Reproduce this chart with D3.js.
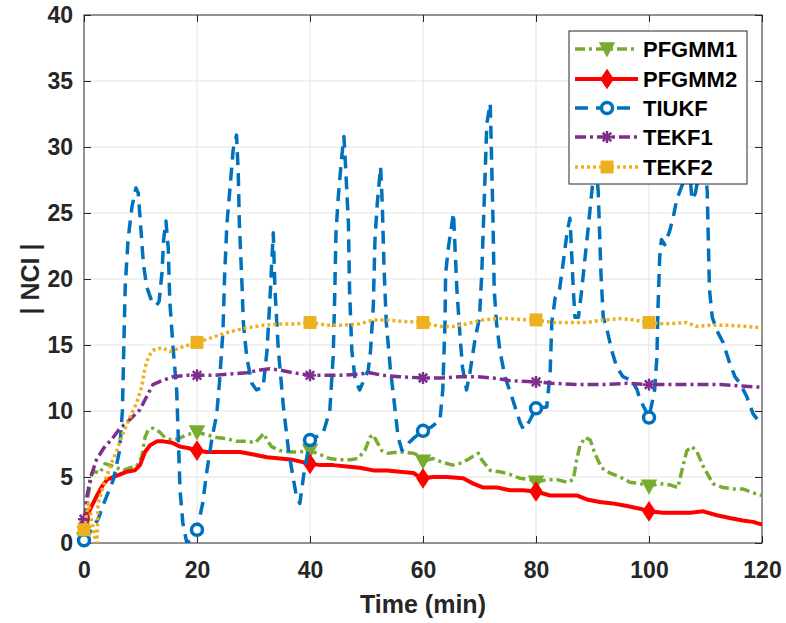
<!DOCTYPE html>
<html>
<head>
<meta charset="utf-8">
<script src="https://cdn.jsdelivr.net/npm/d3@7"></script>
<style>
  body { margin: 0; background: #fff; }
  text { font-family: "Liberation Sans", Arial, sans-serif; font-weight: bold; }
</style>
</head>
<body>
<div id="chart"></div>
<script>
// ---- data ----
var xTicks = [0, 20, 40, 60, 80, 100, 120];
var yTicks = [0, 5, 10, 15, 20, 25, 30, 35, 40];
var markerTimes = [0, 20, 40, 60, 80, 100];
var seriesNames = ["PFGMM1", "PFGMM2", "TIUKF", "TEKF1", "TEKF2"];

var pfgmm1 = [[0,0.3],[0.7,3.5],[1.4,5.3],[2,5.4],[2.8,5.3],[3.7,6.0],[4.6,5.9],[5.8,5.7],[6.9,5.5],[8.1,5.7],[9.3,5.8],[10.2,6.5],[10.8,8.0],[11.4,8.6],[12.2,8.7],[13.4,8.4],[14.3,8.0],[15.5,7.8],[16.7,7.9],[18.2,8.2],[20,8.4],[21.7,8.2],[23.5,8.0],[25.3,7.9],[27,7.7],[28.8,7.7],[30.3,7.6],[31.2,8.0],[31.8,8.3],[32.4,7.8],[33.2,7.3],[34.7,7.0],[36.5,6.9],[38.2,6.9],[40,7.0],[41.8,6.7],[43.5,6.4],[45.3,6.3],[47.1,6.3],[48.5,6.4],[49.7,7.0],[50.6,8.0],[51.2,8.2],[51.8,7.7],[52.7,7.0],[53.8,6.8],[55.9,6.9],[58.3,6.8],[59.4,6.6],[60,6.2],[61.8,6.4],[63.5,6.1],[65.3,5.9],[67.1,6.1],[68.6,6.5],[69.8,6.8],[70.4,6.3],[71.9,5.5],[73.6,5.4],[75.4,5.2],[77.2,4.9],[78.9,4.8],[80,4.6],[81.9,4.8],[83.7,4.8],[85.5,4.6],[86.6,4.8],[87.2,6.3],[87.8,7.4],[88.7,8.0],[89.6,7.8],[90.4,6.8],[91.6,5.7],[93.1,5.3],[94.9,5.0],[96.6,4.6],[98.4,4.5],[100,4.3],[101.9,4.5],[103.7,4.4],[105.1,4.2],[106,5.8],[106.7,7.0],[107.6,7.3],[108.5,6.9],[109.6,5.8],[111.3,4.5],[113.1,4.2],[114.9,4.1],[116.6,4.1],[118.4,3.8],[120,3.6]];

var pfgmm2 = [[0,1.2],[0.3,0.2],[0.7,2.2],[1.6,3.0],[2.3,3.6],[3.2,4.3],[4.1,4.8],[5.2,5.0],[6.4,5.2],[7.6,5.4],[9.0,5.5],[9.9,5.9],[10.8,6.9],[11.7,7.4],[12.9,7.7],[14,7.7],[15.6,7.6],[17,7.3],[18.4,7.2],[20,7.0],[21.7,6.9],[22.7,6.9],[25.3,6.9],[27.6,6.9],[30,6.7],[32.4,6.5],[34.7,6.4],[37,6.3],[40,6.0],[41.8,5.9],[44.1,5.9],[46.5,5.8],[48.8,5.7],[51.2,5.5],[53.6,5.5],[55.9,5.4],[58.3,5.3],[59.4,5.0],[60,4.9],[61.8,5.0],[64.2,5.0],[67.1,4.9],[68.9,4.5],[70.7,4.2],[73.1,4.2],[75.4,4.0],[77.7,4.0],[80,3.9],[82.5,3.6],[84.8,3.6],[87.2,3.6],[89,3.3],[91.3,3.1],[93.6,3.0],[96.1,2.8],[98.4,2.6],[100,2.4],[102.5,2.3],[104.9,2.3],[107.3,2.3],[109.6,2.4],[112,2.1],[114.3,1.9],[116.6,1.7],[118.4,1.6],[120,1.4]];

var tiukf = [[0,0.2],[2.5,1.8],[3.5,3.0],[5.2,4.8],[6.3,7.0],[6.8,10],[7.0,14],[7.3,19.5],[7.8,23],[8.5,25.5],[9.2,26.9],[9.6,26.5],[10.0,24.2],[10.5,21.2],[11.1,19.4],[12.0,18.3],[12.8,18.0],[13.3,18.3],[13.8,20.5],[14.1,23],[14.5,24.4],[14.9,22.4],[15.2,18.2],[15.8,14.6],[16.4,11.6],[16.7,7.8],[17,4],[17.5,1.5],[18.2,0],[19.3,0.3],[20,1.0],[21,3],[21.7,5.3],[22.6,7.8],[23.5,9.8],[24,12.3],[24.6,16.1],[24.9,20.4],[25.3,24.2],[25.8,26.7],[26.4,29.8],[27,30.9],[27.3,28],[27.5,24.2],[28,19.2],[28.2,16.7],[28.8,14.1],[29.7,12.1],[30.5,11.6],[31.7,11.8],[32.4,14.6],[33,19.2],[33.2,21],[33.5,23.5],[33.8,19.2],[34.4,14.6],[35.3,10.3],[36.2,7],[37.6,3.5],[38.2,3.0],[39,5.5],[40,7.8],[42.3,8.3],[43.5,10],[44.1,14.1],[44.4,19.2],[44.6,23.5],[45,26.2],[45.6,29.2],[46,30.8],[46.3,28.5],[46.8,24.2],[47,19.2],[47.4,14.6],[48,12.3],[48.8,11.6],[49.5,12.3],[50.3,13.1],[50.7,14.5],[51.2,17.9],[51.5,23],[51.9,25.7],[52.5,28.5],[52.8,25.6],[53.1,20.9],[53.5,16.7],[54.2,13.3],[55,10.3],[55.6,8.0],[56.3,7.0],[57.5,7.6],[58.5,8.0],[60,8.5],[61.5,8.8],[63,9.3],[63.5,11.6],[63.9,16.7],[64,20.4],[64.5,22.4],[65.4,25],[65.6,23],[66,19.2],[66.6,15.4],[67,13.3],[67.7,11.6],[68.3,12.9],[69.2,15.4],[70,17.1],[70.4,20.4],[70.7,24.2],[71,28],[71.3,31.8],[71.9,33.3],[72.1,29.8],[72.4,24.2],[72.6,19.2],[73,16.7],[73.6,14.6],[74.5,12.6],[75.7,11.1],[77.2,9.1],[77.8,8.6],[78.8,9.2],[80,10.2],[81.9,10.3],[82.5,12.9],[82.8,16.7],[83.4,18.6],[84.2,19.3],[84.8,21.2],[85.5,23.5],[86,24.6],[86.2,23],[86.6,19.2],[86.9,17.1],[87.5,17.1],[88.1,19.2],[88.7,21.7],[89.2,23.7],[89.9,26.7],[90.5,29],[91,26.7],[91.2,24.2],[91.5,20.4],[91.9,17.1],[92.6,16.1],[93.4,14.6],[94.3,13.3],[95.4,12.6],[97,12.3],[97.9,11.6],[98.3,11.0],[100,9.5],[101,11.6],[101.4,14.1],[101.6,17.9],[101.9,21.7],[102.2,23],[102.8,22.6],[103.7,23.7],[104.3,24.7],[104.9,26],[105.5,26.7],[106.5,27.8],[107.2,28.3],[107.6,26],[108.2,26.5],[109.3,29],[110.0,28],[110.3,26.7],[110.5,23],[110.7,19.2],[111.2,17.1],[112,16.1],[113.1,15.2],[114.3,13.6],[115.2,12.6],[116.1,12.1],[117.3,11.1],[118.4,9.8],[120,8.9]];

var tekf1 = [[0,1.8],[0.5,3.5],[1.2,5.0],[2.2,6.3],[3.5,7.2],[5,7.9],[6.2,8.6],[8,9.3],[9.9,10.1],[11.1,11.1],[12.2,12.0],[13.8,12.3],[15.8,12.6],[18.2,12.7],[20,12.7],[22.9,12.7],[25.8,12.8],[28.8,12.9],[31.2,13.1],[32.9,13.2],[34.7,13.1],[37,12.9],[40,12.7],[43,12.7],[45.9,12.7],[48.8,12.8],[50.6,12.9],[52.9,12.7],[55.9,12.6],[60,12.5],[63.5,12.5],[66.5,12.6],[69.5,12.6],[72.4,12.5],[75.4,12.3],[80,12.2],[82.8,12.1],[87.8,12.0],[91.9,12.0],[96.1,12.1],[100,12.0],[103.7,12.0],[107.9,12.0],[112.6,12.0],[116.1,11.9],[120,11.8]];

var tekf2 = [[0,1.0],[0.8,3.0],[2.0,0.3],[2.3,0],[2.5,3.0],[3.4,4.3],[4.6,5.8],[5.8,7.0],[6.9,8.3],[8.1,9.5],[9.3,10.6],[10.2,11.8],[10.8,13.3],[11.4,14.1],[12.2,14.6],[13.8,14.8],[15.2,14.5],[17,14.8],[20,15.2],[22.9,15.6],[25.8,16.0],[28.8,16.3],[31.7,16.5],[34.7,16.6],[37.6,16.6],[40,16.7],[43,16.5],[45.9,16.5],[48.8,16.6],[51.2,16.9],[53.6,16.9],[55.9,16.8],[60,16.7],[63,16.4],[65.3,16.4],[67.7,16.6],[70.7,16.9],[73.1,17.0],[75.4,17.0],[78.4,16.9],[80,16.9],[83,16.7],[86,16.7],[88.9,16.7],[91.9,16.9],[94.9,17.0],[97.3,16.9],[100,16.7],[102.8,16.6],[106.7,16.7],[108.5,16.4],[110.8,16.5],[113.8,16.5],[117.3,16.4],[120,16.3]];

var seriesData = [pfgmm1, pfgmm2, tiukf, tekf1, tekf2];

var styles = [
  {color: "#77AC30", width: 3.5, dash: "10,4,3,4", marker: "tri"},
  {color: "#FF0000", width: 4, dash: null, marker: "diamond"},
  {color: "#0072BD", width: 3.5, dash: "13,8", marker: "circle"},
  {color: "#7E2F8E", width: 3.5, dash: "11,4,3,4", marker: "star"},
  {color: "#EDB120", width: 3.5, dash: "3,3", marker: "square"}
];

// ---- layout ----
var W = 786, H = 623;
var margin = {left: 84, right: 762, top: 15, bottom: 543};

var svg = d3.select("#chart").append("svg")
  .attr("width", W).attr("height", H);

var x = d3.scaleLinear().domain([0, 120]).range([margin.left, margin.right]);
var y = d3.scaleLinear().domain([0, 40]).range([margin.bottom, margin.top]);

// grid
svg.append("g").selectAll("line").data(xTicks.slice(1, -1)).enter().append("line")
  .attr("x1", d => x(d)).attr("x2", d => x(d)).attr("y1", margin.top).attr("y2", margin.bottom)
  .attr("stroke", "#e3e3e3").attr("stroke-width", 1);
svg.append("g").selectAll("line").data(yTicks.slice(1, -1)).enter().append("line")
  .attr("x1", margin.left).attr("x2", margin.right).attr("y1", d => y(d)).attr("y2", d => y(d))
  .attr("stroke", "#e3e3e3").attr("stroke-width", 1);

// axes (MATLAB style, ticks inside, box on)
var axisColor = "#262626";
function styleAxis(g) {
  g.select(".domain").remove();
  g.selectAll(".tick line").attr("stroke", axisColor);
  g.selectAll(".tick text").attr("fill", axisColor)
    .style("font-size", "23px").style("font-weight", "bold")
    .style("font-family", "'Liberation Sans', Arial, sans-serif");
}
svg.append("g").attr("transform", "translate(0," + margin.bottom + ")")
  .call(d3.axisBottom(x).tickValues(xTicks).tickSizeInner(-7).tickSizeOuter(0).tickPadding(19))
  .call(styleAxis);
svg.append("g").attr("transform", "translate(0," + margin.top + ")")
  .call(d3.axisTop(x).tickValues(xTicks).tickSizeInner(-7).tickSizeOuter(0).tickFormat(""))
  .call(styleAxis);
svg.append("g").attr("transform", "translate(" + margin.left + ",0)")
  .call(d3.axisLeft(y).tickValues(yTicks).tickSizeInner(-7).tickSizeOuter(0).tickPadding(11))
  .call(styleAxis);
svg.append("g").attr("transform", "translate(" + margin.right + ",0)")
  .call(d3.axisRight(y).tickValues(yTicks).tickSizeInner(-7).tickSizeOuter(0).tickFormat(""))
  .call(styleAxis);
svg.append("rect").attr("x", margin.left).attr("y", margin.top)
  .attr("width", margin.right - margin.left).attr("height", margin.bottom - margin.top)
  .attr("fill", "none").attr("stroke", axisColor).attr("stroke-width", 1);

// clip
svg.append("clipPath").attr("id", "clip").append("rect")
  .attr("x", margin.left).attr("y", margin.top)
  .attr("width", margin.right - margin.left).attr("height", margin.bottom - margin.top);

var line = d3.line().x(d => x(d[0])).y(d => y(d[1]));

function drawMarker(g, type, cx, cy, color) {
  if (type === "tri") {
    g.append("path").attr("d", "M" + (cx - 7) + "," + (cy - 6) + "L" + (cx + 7) + "," + (cy - 6) + "L" + cx + "," + (cy + 7) + "Z")
      .attr("fill", color).attr("stroke", color).attr("stroke-width", 1.5);
  } else if (type === "diamond") {
    g.append("path").attr("d", "M" + cx + "," + (cy - 9) + "L" + (cx + 6) + "," + cy + "L" + cx + "," + (cy + 9) + "L" + (cx - 6) + "," + cy + "Z")
      .attr("fill", color).attr("stroke", color).attr("stroke-width", 1.5);
  } else if (type === "circle") {
    g.append("circle").attr("cx", cx).attr("cy", cy).attr("r", 5.5)
      .attr("fill", "#fff").attr("stroke", color).attr("stroke-width", 3.5);
  } else if (type === "square") {
    g.append("rect").attr("x", cx - 6).attr("y", cy - 6).attr("width", 12).attr("height", 12)
      .attr("fill", color).attr("stroke", color).attr("stroke-width", 1);
  } else if (type === "star") {
    var r = 6;
    [0, 45, 90, 135].forEach(function(a) {
      var rad = a * Math.PI / 180;
      g.append("line")
        .attr("x1", cx - r * Math.cos(rad)).attr("y1", cy - r * Math.sin(rad))
        .attr("x2", cx + r * Math.cos(rad)).attr("y2", cy + r * Math.sin(rad))
        .attr("stroke", color).attr("stroke-width", 2.5);
    });
  }
}

seriesData.forEach(function(data, i) {
  var s = styles[i];
  svg.append("path").datum(data)
    .attr("clip-path", "url(#clip)")
    .attr("fill", "none")
    .attr("stroke", s.color)
    .attr("stroke-width", s.width)
    .attr("stroke-linejoin", "round")
    .attr("stroke-dasharray", s.dash)
    .attr("d", line);
  var mg = svg.append("g");
  data.filter(d => markerTimes.indexOf(d[0]) >= 0).forEach(function(d) {
    drawMarker(mg, s.marker, x(d[0]), y(d[1]), s.color);
  });
});

// axis labels
svg.append("text").attr("x", (margin.left + margin.right) / 2).attr("y", 613)
  .attr("text-anchor", "middle").attr("fill", axisColor)
  .style("font-size", "25px").text("Time (min)");
svg.append("text")
  .attr("transform", "translate(39," + ((margin.top + margin.bottom) / 2) + ") rotate(-90)")
  .attr("text-anchor", "middle").attr("fill", axisColor)
  .style("font-size", "25px").text("| NCI |");

// legend
var lg = svg.append("g");
lg.append("rect").attr("x", 569).attr("y", 31).attr("width", 178).attr("height", 153)
  .attr("fill", "#fff").attr("stroke", axisColor).attr("stroke-width", 1);
var legendY = [49, 79, 108, 137, 167];
seriesNames.forEach(function(name, i) {
  var s = styles[i];
  lg.append("line").attr("x1", 575).attr("x2", 638).attr("y1", legendY[i]).attr("y2", legendY[i])
    .attr("stroke", s.color).attr("stroke-width", s.width).attr("stroke-dasharray", s.dash);
  drawMarker(lg, s.marker, 607, legendY[i], s.color);
  lg.append("text").attr("x", 643).attr("y", legendY[i] + 8)
    .attr("fill", "#000").style("font-size", "22px").text(name);
});
</script>
</body>
</html>
